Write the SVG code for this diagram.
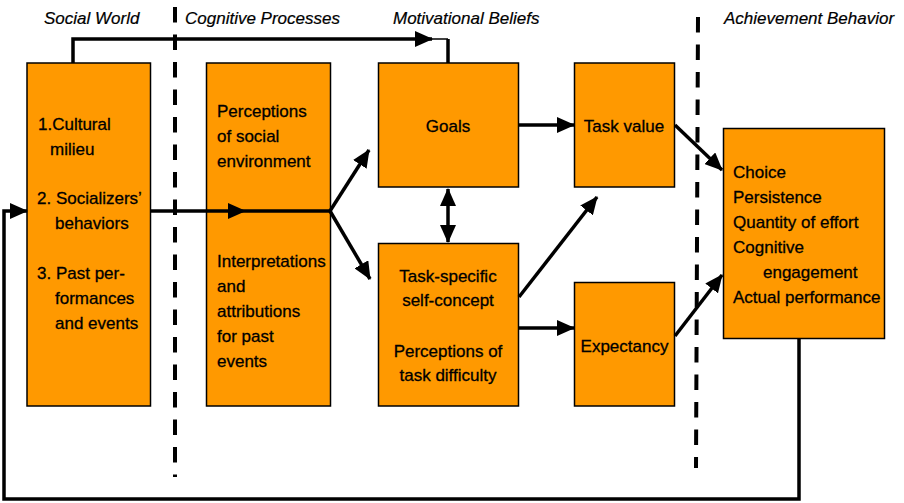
<svg xmlns="http://www.w3.org/2000/svg" width="904" height="503" viewBox="0 0 904 503">
<defs>
<style>
.box{fill:#FF9900;stroke:#000;stroke-width:1.5}
.t{font-family:"Liberation Sans",Arial,sans-serif;font-size:17px;fill:#000;stroke:#000;stroke-width:0.3}
.c{text-anchor:middle}
.h{font-family:"Liberation Sans",Arial,sans-serif;font-size:17px;font-style:italic;fill:#000;stroke:#000;stroke-width:0.2}
.ln{fill:none;stroke:#000;stroke-width:3.5}
.thin{fill:none;stroke:#000;stroke-width:1.5}
.dash{fill:none;stroke:#000;stroke-width:4;stroke-dasharray:15.5 12}
</style>
<marker id="ah" markerUnits="userSpaceOnUse" markerWidth="18" markerHeight="16" refX="17" refY="8" orient="auto-start-reverse">
<path d="M0,0 L18,8 L0,16 Z" fill="#000"/>
</marker>
</defs>
<rect width="904" height="503" fill="#fff"/>

<g id="headers">
<text class="h" x="44" y="24">Social World</text>
<text class="h" x="185" y="24">Cognitive Processes</text>
<text class="h" x="393" y="24">Motivational Beliefs</text>
<text class="h" x="724" y="24">Achievement Behavior</text>
</g>

<g id="dividers">
<line class="dash" x1="175" y1="7" x2="175" y2="477"/>
<line class="dash" x1="698" y1="17" x2="696" y2="468"/>
</g>

<g id="social-world">
<rect class="box" x="27" y="63" width="123.5" height="343"/>
<text class="t" x="38" y="130">1.Cultural</text>
<text class="t" x="50" y="155">milieu</text>
<text class="t" x="37" y="204">2. Socializers’</text>
<text class="t" x="55" y="229">behaviors</text>
<text class="t" x="37" y="279">3. Past per-</text>
<text class="t" x="55" y="304">formances</text>
<text class="t" x="55" y="329">and events</text>
</g>

<g id="cognitive-processes">
<rect class="box" x="206.5" y="63" width="124" height="343"/>
<text class="t" x="217" y="117">Perceptions</text>
<text class="t" x="217" y="142">of social</text>
<text class="t" x="217" y="167">environment</text>
<text class="t" x="217" y="267">Interpretations</text>
<text class="t" x="217" y="292">and</text>
<text class="t" x="217" y="317">attributions</text>
<text class="t" x="217" y="342">for past</text>
<text class="t" x="217" y="367">events</text>
</g>

<g id="goals">
<rect class="box" x="378.5" y="63" width="140" height="124"/>
<text class="t c" x="448" y="132">Goals</text>
</g>

<g id="task-value">
<rect class="box" x="574.5" y="63" width="100" height="124"/>
<text class="t c" x="624" y="132">Task value</text>
</g>

<g id="task-specific">
<rect class="box" x="378.5" y="243.5" width="140" height="162.5"/>
<text class="t c" x="448" y="282">Task-specific</text>
<text class="t c" x="448" y="306">self-concept</text>
<text class="t c" x="448" y="357">Perceptions of</text>
<text class="t c" x="448" y="381">task difficulty</text>
</g>

<g id="expectancy">
<rect class="box" x="574.5" y="282.5" width="100" height="123.5"/>
<text class="t c" x="624.5" y="352">Expectancy</text>
</g>

<g id="achievement-behavior">
<rect class="box" x="723.5" y="128.5" width="161" height="210"/>
<text class="t" x="733" y="178">Choice</text>
<text class="t" x="733" y="203">Persistence</text>
<text class="t" x="733" y="228">Quantity of effort</text>
<text class="t" x="733" y="253">Cognitive</text>
<text class="t" x="763" y="278">engagement</text>
<text class="t" x="733" y="303">Actual performance</text>
</g>

<g id="connectors">
<path class="ln" d="M73,63 V39 H432" marker-end="url(#ah)"/>
<path class="thin" d="M432,39 H448"/>
<path class="ln" d="M448,39 V63"/>
<path class="ln" d="M799,339 V499 H4 V211 H27" marker-end="url(#ah)"/>
<path class="ln" d="M151,211 H245" marker-end="url(#ah)"/>
<path class="ln" d="M245,211 H330"/>
<path class="ln" d="M330,211 L369,150" marker-end="url(#ah)"/>
<path class="ln" d="M330,211 L370,279" marker-end="url(#ah)"/>
<path class="ln" d="M448,189 V242" marker-start="url(#ah)" marker-end="url(#ah)"/>
<path class="ln" d="M519,125 H574" marker-end="url(#ah)"/>
<path class="ln" d="M519,297 L597,197" marker-end="url(#ah)"/>
<path class="ln" d="M519,328 H574" marker-end="url(#ah)"/>
<path class="ln" d="M675,125 L722,170" marker-end="url(#ah)"/>
<path class="ln" d="M675,336 L722,275" marker-end="url(#ah)"/>
</g>
</svg>
